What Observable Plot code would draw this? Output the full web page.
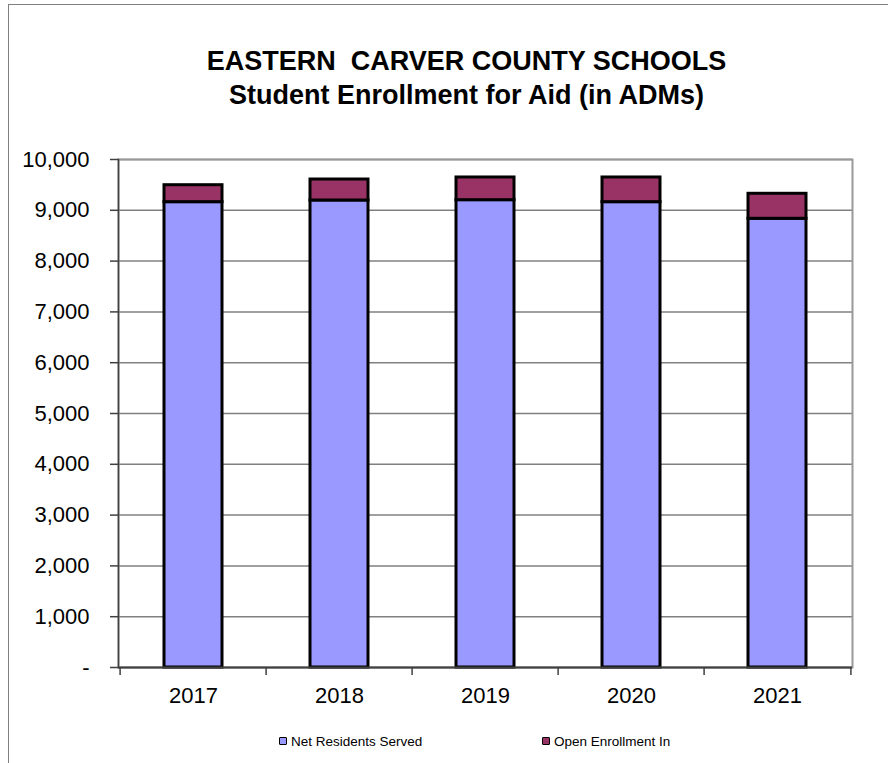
<!DOCTYPE html>
<html><head><meta charset="utf-8">
<script src="https://cdn.jsdelivr.net/npm/d3@7"></script>
<script src="https://cdn.jsdelivr.net/npm/@observablehq/plot@0.6"></script>
<style>
body{margin:0;width:888px;height:763px;overflow:hidden;background:#fff;position:relative;font-family:"Liberation Sans",Arial,sans-serif;color:#000}
#border{position:absolute;left:8px;top:4px;width:1000px;height:1000px;border:1.5px solid #808080}
#title{position:absolute;left:45px;width:843px;top:44px;text-align:center;font-weight:bold;font-size:27px;line-height:34px}
#chart{position:absolute;left:0;top:130px}
#legend{position:absolute;top:732px;left:0;width:888px;height:18px;font-size:13.5px}
.item{position:absolute;top:0;display:flex;align-items:center;height:18px}
.sw{width:6px;height:6px;border:1.5px solid #000;margin-right:4px;border-radius:1px}
</style></head>
<body>
<div id="border"></div>
<div id="title">EASTERN&nbsp; CARVER COUNTY SCHOOLS<br>Student Enrollment for Aid (in ADMs)</div>
<div id="chart"></div>
<div id="legend"></div>
<script>
const years = ["2017", "2018", "2019", "2020", "2021"];
const netResidents = [9160, 9193, 9199, 9160, 8833];
const openEnrollment = [334, 413, 447, 486, 492];
const seriesNames = ["Net Residents Served", "Open Enrollment In"];
const seriesColors = ["#9999FF", "#993366"];
const yTicks = [0, 1000, 2000, 3000, 4000, 5000, 6000, 7000, 8000, 9000, 10000];

const rows = years.flatMap((yr, i) => [
  {year: yr, series: seriesNames[0], value: netResidents[i]},
  {year: yr, series: seriesNames[1], value: openEnrollment[i]}
]);

const W = 888, H = 580, mL = 118, mR = 36, mT = 29, mB = 43;
const step = (W - mL - mR) / years.length;
const fmt = d => d === 0 ? "-" : d3.format(",")(d);

const plot = Plot.plot({
  width: W, height: H,
  marginLeft: mL, marginRight: mR, marginTop: mT, marginBottom: mB,
  style: {fontFamily: '"Liberation Sans", Arial, sans-serif', color: "#000", background: "transparent"},
  x: {type: "band", domain: years, paddingInner: 0.6, paddingOuter: 0.3, label: null},
  y: {domain: [0, 10000], label: null},
  color: {domain: seriesNames, range: seriesColors},
  marks: [
    Plot.gridY(yTicks, {stroke: "#808080", strokeOpacity: 1, strokeWidth: 1.5}),
    Plot.frame({stroke: "#999999", strokeWidth: 2}),
    Plot.barY(rows, {x: "year", y: "value", fill: "series", stroke: "#000", strokeWidth: 3}),
    Plot.ruleY([0], {stroke: "#404040", strokeWidth: 2}),
    Plot.frame({anchor: "left", stroke: "#404040", strokeWidth: 1.5}),
    Plot.axisY({ticks: yTicks, tickFormat: fmt, tickSize: 8, tickPadding: 21, fontSize: 22, stroke: "#404040", strokeWidth: 1.5}),
    Plot.axisX({tickSize: 0, tickPadding: 20, fontSize: 22}),
    Plot.ruleX(years, {x: d => d, dx: -step / 2, y1: 0, y2: 0, insetTop: 8, stroke: "#404040", strokeWidth: 1.5}),
    Plot.ruleX(years.slice(-1), {x: d => d, dx: step / 2, y1: 0, y2: 0, insetTop: 8, stroke: "#404040", strokeWidth: 1.5})
  ]
});
document.getElementById("chart").appendChild(plot);

const legend = document.getElementById("legend");
const legendX = [279, 542];
seriesNames.forEach((name, i) => {
  const it = document.createElement("div");
  it.className = "item";
  it.style.left = legendX[i] + "px";
  const sw = document.createElement("div");
  sw.className = "sw";
  sw.style.background = seriesColors[i];
  it.appendChild(sw);
  const t = document.createElement("span");
  t.textContent = name;
  it.appendChild(t);
  legend.appendChild(it);
});
</script>
</body></html>
